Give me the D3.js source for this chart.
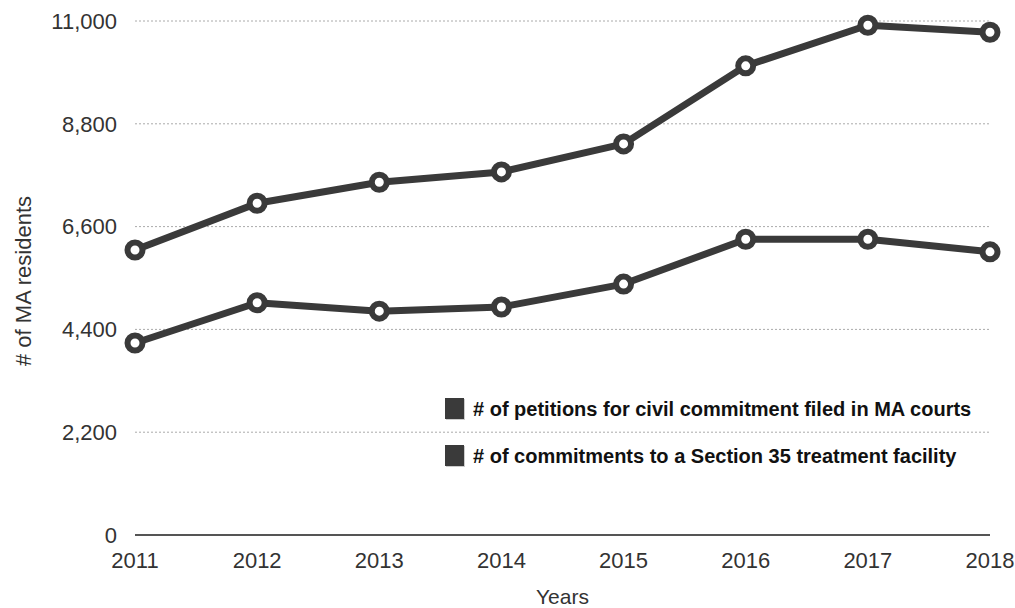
<!DOCTYPE html>
<html>
<head>
<meta charset="utf-8">
<script src="https://cdn.jsdelivr.net/npm/d3@7"></script>
<style>
  body { margin: 0; background: #fff; }
  text { font-family: "Liberation Sans", Arial, Helvetica, sans-serif; }
</style>
</head>
<body>
<script>
var years = [2011, 2012, 2013, 2014, 2015, 2016, 2017, 2018];
var petitions = [6100, 7100, 7550, 7770, 8370, 10040, 10910, 10760];
var commitments = [4110, 4970, 4790, 4880, 5370, 6330, 6330, 6060];
var yTicks = [0, 2200, 4400, 6600, 8800, 11000];
var seriesNames = [
    "# of petitions for civil commitment filed in MA courts",
    "# of commitments to a Section 35 treatment facility"
];

var width = 1015,
    height = 608,
    margin = { top: 21, right: 25, bottom: 73, left: 135 };

var lineColor = "#3a3a3a";

var svg = d3.select("body").append("svg")
    .attr("width", width)
    .attr("height", height);

var x = d3.scalePoint()
    .domain(years)
    .range([margin.left, width - margin.right]);

var y = d3.scaleLinear()
    .domain([0, 11000])
    .range([height - margin.bottom, margin.top]);

// dotted grid lines
svg.append("g")
    .selectAll("line")
    .data(yTicks.filter(function (d) { return d > 0; }))
    .enter().append("line")
    .attr("x1", margin.left)
    .attr("x2", width - margin.right)
    .attr("y1", function (d) { return y(d); })
    .attr("y2", function (d) { return y(d); })
    .attr("stroke", "#aaa")
    .attr("stroke-width", 1)
    .attr("stroke-dasharray", "2,2");

// baseline
svg.append("line")
    .attr("x1", margin.left)
    .attr("x2", width - margin.right)
    .attr("y1", y(0))
    .attr("y2", y(0))
    .attr("stroke", "#555")
    .attr("stroke-width", 2);

// y tick labels
svg.append("g")
    .selectAll("text")
    .data(yTicks)
    .enter().append("text")
    .attr("x", 117)
    .attr("y", function (d) { return y(d); })
    .attr("dy", "0.35em")
    .attr("text-anchor", "end")
    .attr("fill", "#333")
    .style("font-size", "22px")
    .text(function (d) { return d3.format(",")(d); });

// x tick labels
svg.append("g")
    .selectAll("text")
    .data(years)
    .enter().append("text")
    .attr("x", function (d) { return x(d); })
    .attr("y", 568)
    .attr("text-anchor", "middle")
    .attr("fill", "#333")
    .style("font-size", "22px")
    .text(function (d) { return d; });

// axis titles
svg.append("text")
    .attr("x", (margin.left + width - margin.right) / 2)
    .attr("y", 604)
    .attr("text-anchor", "middle")
    .attr("fill", "#333")
    .style("font-size", "21px")
    .text("Years");

svg.append("text")
    .attr("transform", "translate(31,281) rotate(-90)")
    .attr("text-anchor", "middle")
    .attr("fill", "#333")
    .style("font-size", "22px")
    .text("# of MA residents");

var line = d3.line()
    .x(function (d, i) { return x(years[i]); })
    .y(function (d) { return y(d); });

[petitions, commitments].forEach(function (series) {
    svg.append("path")
        .datum(series)
        .attr("d", line)
        .attr("fill", "none")
        .attr("stroke", lineColor)
        .attr("stroke-width", 7)
        .attr("stroke-linejoin", "round");

    svg.append("g")
        .selectAll("circle")
        .data(series)
        .enter().append("circle")
        .attr("cx", function (d, i) { return x(years[i]); })
        .attr("cy", function (d) { return y(d); })
        .attr("r", 7.5)
        .attr("fill", "#fff")
        .attr("stroke", lineColor)
        .attr("stroke-width", 6);
});

// legend
var legend = svg.append("g")
    .selectAll("g")
    .data(seriesNames)
    .enter().append("g")
    .attr("transform", function (d, i) { return "translate(445," + (398 + i * 47) + ")"; });

legend.append("rect")
    .attr("x", 1)
    .attr("y", 1)
    .attr("width", 19)
    .attr("height", 21)
    .attr("fill", "#999")
    .attr("opacity", 0.5);

legend.append("rect")
    .attr("width", 19)
    .attr("height", 21)
    .attr("fill", lineColor);

legend.append("text")
    .attr("x", 28)
    .attr("y", 11)
    .attr("dy", "0.35em")
    .attr("fill", "#111")
    .style("font-size", "20px")
    .style("font-weight", "bold")
    .text(function (d) { return d; });
</script>
</body>
</html>
